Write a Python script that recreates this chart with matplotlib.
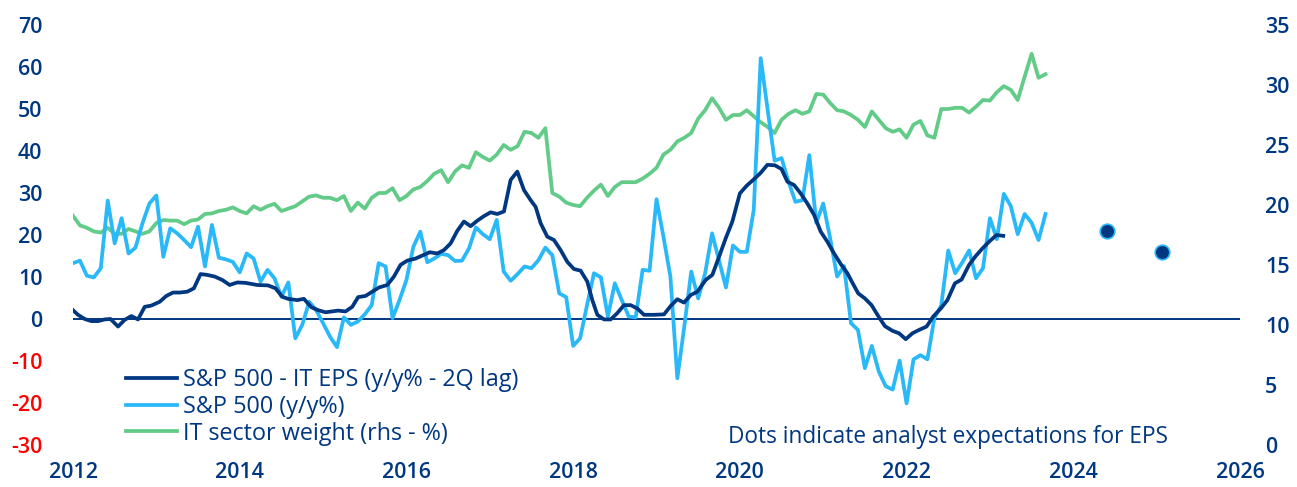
import numpy as np
import matplotlib
matplotlib.use("Agg")
import matplotlib.pyplot as plt

plt.rcParams['font.family'] = ['Open Sans', 'DejaVu Sans']

NAVY = '#003781'
LBLUE = '#29B8F8'
GREEN = '#62CB88'
RED = '#FF0000'

# S&P 500 y/y %, monthly from Jan 2012
spx_yoy = [13.3, 13.9, 10.3, 9.9, 12.1, 28.2, 18.0, 24.0, 15.6, 17.0, 22.8, 27.5, 29.4, 14.8, 21.6, 20.4,
           18.8, 17.1, 22.0, 12.5, 22.4, 14.6, 14.2,
           13.6, 11.1, 15.6, 14.4, 8.9, 11.7, 9.7, 5.3, 8.7, -4.6, -1.4, 4.1, 2.1, -1.0, -4.2, -6.7, 0.4,
           -1.4, -0.6, 1.1, 3.3, 13.3,
           12.5, 0.2, 4.5, 9.3, 17.2, 20.8, 13.5, 14.4, 15.5, 15.2, 13.8, 13.9, 16.8, 21.8, 20.2, 19.0,
           23.6, 11.3, 9.1, 10.7, 12.5, 12.1, 14.0,
           17.0, 15.2, 6.1, 5.2, -6.4, -4.6, 3.3, 10.9, 9.9, 0.6, 8.5, 4.5, 0.6, 0.4, 11.7, 11.5, 28.5,
           19.6, 10.1, -14.1, -1.8, 11.3,
           4.9, 10.9, 20.4, 14.0, 7.5, 17.5, 16.0, 16.0, 26.0, 62.1, 49.8, 37.7, 38.3, 32.7, 27.9, 28.3,
           39.0, 22.9, 27.5, 19.2, 10.1, 12.6, -1.0,
           -2.6, -11.7, -6.4, -12.5, -16.0, -16.8, -9.9, -20.1, -9.6, -8.6, -9.6, 0.2, 3.3, 16.3, 10.9,
           13.4, 16.3, 9.7, 12.1, 24.0, 19.0, 29.8, 26.9, 20.2, 25.0, 22.9, 18.8, 25.0]

# IT sector weight in S&P 500 (%), monthly from Jan 2012
it_weight = [19.1, 18.3, 18.1, 17.8, 17.7, 18.1, 17.6, 17.6, 18.0, 17.8, 17.6, 17.8, 18.5, 18.75, 18.7,
             18.7, 18.4, 18.7, 18.8, 19.25, 19.3, 19.5, 19.6,
             19.8, 19.5, 19.3, 19.9, 19.6, 19.9, 20.1, 19.5, 19.7, 19.9, 20.3, 20.7, 20.8, 20.6, 20.6,
             20.4, 20.75, 19.5, 20.2, 19.7, 20.6, 21.0,
             21.0, 21.4, 20.4, 20.75, 21.3, 21.5, 22.0, 22.6, 22.9, 21.9, 22.8, 23.3, 23.1, 24.4, 24.0,
             23.7, 24.2, 25.0, 24.6, 24.9, 26.1, 26.0, 25.6,
             26.4, 21.0, 20.7, 20.2, 20.0, 19.9, 20.6, 21.2, 21.7, 20.75, 21.5, 21.9, 21.9, 21.9, 22.2,
             22.6, 23.1, 24.2, 24.6, 25.3, 25.6, 26.0,
             27.2, 27.9, 28.9, 28.1, 27.1, 27.5, 27.5, 27.9, 27.4, 26.9, 26.5, 26.0, 27.1, 27.6, 27.9,
             27.6, 27.8, 29.25, 29.2, 28.5, 27.9, 27.8, 27.5,
             27.1, 26.5, 27.8, 27.1, 26.4, 26.1, 26.3, 25.6, 26.7, 27.0, 25.8, 25.6, 28.0, 28.0, 28.1,
             28.1, 27.7, 28.2, 28.75, 28.7, 29.4, 29.9, 29.6, 28.75, 30.7, 32.6, 30.6, 30.9]

# S&P 500 IT EPS y/y % (2Q lag)
eps_years = [2012.00, 2012.06, 2012.14, 2012.22, 2012.30, 2012.38, 2012.45, 2012.54, 2012.62, 2012.70,
             2012.78, 2012.86, 2012.94, 2013.04, 2013.12, 2013.20, 2013.28, 2013.37, 2013.45, 2013.53,
             2013.61, 2013.70, 2013.79, 2013.88, 2013.97, 2014.07, 2014.21, 2014.34, 2014.43, 2014.51,
             2014.58, 2014.69, 2014.77, 2014.86, 2014.94, 2015.03, 2015.11, 2015.18, 2015.27, 2015.35,
             2015.42, 2015.51, 2015.59, 2015.67, 2015.77, 2015.85, 2015.93, 2016.01, 2016.11, 2016.19,
             2016.28, 2016.37, 2016.45, 2016.53, 2016.61, 2016.69, 2016.77, 2016.85, 2016.93, 2017.01,
             2017.09, 2017.17, 2017.25, 2017.33, 2017.41, 2017.49, 2017.55, 2017.61, 2017.69, 2017.77,
             2017.85, 2017.93, 2018.01, 2018.09, 2018.17, 2018.23, 2018.29, 2018.37, 2018.45, 2018.53,
             2018.61, 2018.69, 2018.77, 2018.85, 2018.97, 2019.09, 2019.17, 2019.25, 2019.33, 2019.41,
             2019.49, 2019.59, 2019.67, 2019.75, 2019.83, 2019.91, 2020.00, 2020.08, 2020.17, 2020.25,
             2020.33, 2020.42, 2020.50, 2020.57, 2020.65, 2020.73, 2020.81, 2020.89, 2020.97, 2021.05,
             2021.13, 2021.21, 2021.29, 2021.34, 2021.42, 2021.50, 2021.58, 2021.66, 2021.74, 2021.83,
             2021.91, 2021.99, 2022.07, 2022.15, 2022.24, 2022.32, 2022.41, 2022.49, 2022.58, 2022.66,
             2022.75, 2022.83, 2022.91, 2023.00, 2023.08, 2023.16]
eps_yoy = [2.1, 1.0, 0.0, -0.5, -0.5, -0.1, 0.0, -1.8, -0.2, 0.7,
           -0.1, 2.9, 3.2, 4.1, 5.5, 6.3, 6.3, 6.5, 7.3, 10.7,
           10.5, 10.1, 9.3, 8.1, 8.7, 8.6, 8.1, 8.0, 7.3, 5.3,
           4.8, 4.5, 4.8, 2.8, 2.1, 1.6, 1.8, 2.0, 1.8, 2.9,
           5.2, 5.5, 6.5, 7.5, 8.1, 10.1, 12.9, 13.9, 14.4, 15.1,
           15.9, 15.6, 16.4, 18.0, 21.0, 23.2, 22.1, 23.4, 24.5, 25.4,
           25.0, 25.6, 33.1, 35.1, 30.7, 28.3, 26.7, 22.8, 19.6, 18.8,
           16.4, 13.6, 11.9, 11.5, 8.9, 4.5, 1.0, -0.1, -0.1, 1.4,
           3.3, 3.3, 2.5, 1.0, 1.0, 1.1, 3.1, 4.7, 3.9, 5.7,
           6.5, 9.3, 10.5, 14.8, 19.2, 23.2, 29.9, 31.7, 33.3, 34.8,
           36.7, 36.6, 35.7, 32.7, 31.9, 29.9, 27.5, 24.8, 20.8, 18.4,
           15.6, 13.1, 10.9, 9.0, 6.1, 4.9, 3.3, 0.7, -1.7, -2.8,
           -3.4, -4.8, -3.4, -2.6, -1.8, 0.6, 2.5, 4.5, 8.5, 9.4,
           12.9, 15.0, 16.8, 18.6, 20.0, 19.8]

# analyst expectations for EPS
exp_years = [2024.4, 2025.07]
exp_values = [21.0, 15.9]

left_ticks = [-30, -20, -10, 0, 10, 20, 30, 40, 50, 60, 70]
right_ticks = [0, 5, 10, 15, 20, 25, 30, 35]
year_ticks = [2012, 2014, 2016, 2018, 2020, 2022, 2024, 2026]

month_x = 2012 + np.arange(len(spx_yoy)) / 12.0

fig = plt.figure(figsize=(12.97, 4.87), dpi=100)
ax = fig.add_axes([73 / 1297, 42 / 487, (1240 - 73) / 1297, 420 / 487])
ax2 = ax.twinx()

ax.axhline(0, color=NAVY, lw=1.4, zorder=1)
l1, = ax.plot(eps_years, eps_yoy, color=NAVY, lw=2.7, zorder=4)
l2, = ax.plot(month_x, spx_yoy, color=LBLUE, lw=2.7, zorder=3)
l3, = ax2.plot(month_x, it_weight, color=GREEN, lw=2.7, zorder=2)
ax.scatter(exp_years, exp_values, s=110, color=NAVY, edgecolor=LBLUE, linewidth=1.2, zorder=5)

ax.set_xlim(2012, 2026)
ax.set_ylim(-30, 70)
ax2.set_ylim(0, 35)
ax.set_xticks(year_ticks)
ax.set_yticks(left_ticks)
ax2.set_yticks(right_ticks)
ax.set_yticklabels([str(t) for t in left_ticks])

for a in (ax, ax2):
    for s in a.spines.values():
        s.set_visible(False)
    a.tick_params(length=0, labelsize=15.5, labelcolor=NAVY)
ax.tick_params(axis='y', pad=22)
ax.tick_params(axis='x', pad=12)
ax2.tick_params(axis='y', pad=18)

for lab, t in zip(ax.get_yticklabels(), left_ticks):
    lab.set_fontweight('semibold')
    if t < 0:
        lab.set_color(RED)
for lab in ax.get_xticklabels() + ax2.get_yticklabels():
    lab.set_fontweight('semibold')

# ax on top of ax2 so the EPS lines overlay the green one
ax.set_zorder(ax2.get_zorder() + 1)
ax.patch.set_visible(False)

leg = fig.legend([l1, l2, l3],
                 ['S&P 500 - IT EPS (y/y% - 2Q lag)', 'S&P 500 (y/y%)', 'IT sector weight (rhs - %)'],
                 loc='upper left', bbox_to_anchor=(126 / 1297, 1 - 368 / 487),
                 frameon=False, prop={'size': 16.8, 'weight': 'medium'},
                 handlelength=2.2, handletextpad=0.25,
                 labelspacing=0.12, borderpad=0, borderaxespad=0)
for txt in leg.get_texts():
    txt.set_color(NAVY)

fig.text(1168 / 1297, 1 - 437 / 487, 'Dots indicate analyst expectations for EPS',
         ha='right', va='center', fontsize=16.3, fontweight='medium', color=NAVY)

fig.savefig('out.png', dpi=100)
